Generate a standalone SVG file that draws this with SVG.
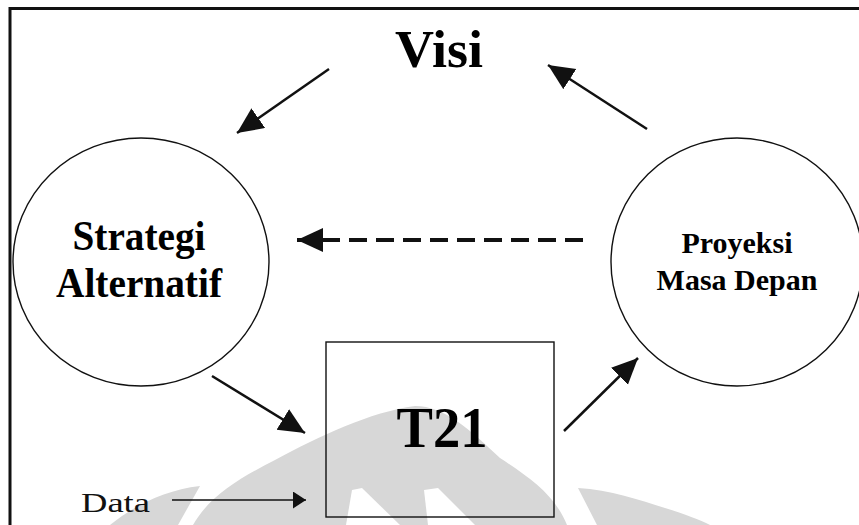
<svg xmlns="http://www.w3.org/2000/svg" width="859" height="525" viewBox="0 0 859 525">
  <style>
    .bold { font-family: "Liberation Serif", "Times New Roman", serif; font-weight: bold; fill: #000; text-anchor: middle; }
    .plain { font-family: "Liberation Serif", "Times New Roman", serif; fill: #111; }
    .node { fill: none; stroke: #111; stroke-width: 1.4; }
    .arrow { fill: none; stroke: #111; stroke-width: 2.5; marker-end: url(#head); }
    .dashed { fill: none; stroke: #111; stroke-width: 4; stroke-dasharray: 18 9; marker-end: url(#head); }
    .thin { fill: none; stroke: #111; stroke-width: 1.5; marker-end: url(#smallhead); }
    .mark { fill: #d7d7d7; }
  </style>
  <defs>
    <marker id="head" markerUnits="userSpaceOnUse" markerWidth="27" markerHeight="25" refX="26" refY="12" orient="auto">
      <path d="M0,0 L26,12 L0,24 Z" fill="#111"/>
    </marker>
    <marker id="smallhead" markerUnits="userSpaceOnUse" markerWidth="14" markerHeight="18" refX="13" refY="8.5" orient="auto">
      <path d="M0,0 L13,8.5 L0,17 Z" fill="#111"/>
    </marker>
  </defs>

  <rect width="859" height="525" fill="#fff"/>

  <!-- faint emblem behind the lower part -->
  <g id="emblem">
    <path class="mark" d="M110,525 C135,505 165,490 200,486 L178,525 Z"/>
    <path class="mark" d="M193,525 C210,495 240,478 275,460 C320,436 370,412 415,406 C445,406 470,430 500,458 C530,478 555,495 567,525 Z"/>
    <path class="mark" d="M578,488 C610,490 640,500 665,508 C685,514 700,520 710,525 L597,525 Z"/>
    <path d="M352,490 L362,488 L400,525 L346,525 Z" fill="#fff"/>
    <path d="M424,490 L438,488 L475,525 L428,525 Z" fill="#fff"/>
  </g>

  <!-- outer frame -->
  <rect x="10" y="8.5" width="900" height="600" fill="none" stroke="#111" stroke-width="3"/>

  <g id="visi">
    <text class="bold" x="439" y="67" font-size="52" textLength="88" lengthAdjust="spacingAndGlyphs">Visi</text>
  </g>

  <g id="strategi">
    <ellipse class="node" cx="141" cy="262" rx="128" ry="124"/>
    <text class="bold" x="139" y="250" font-size="42" textLength="133" lengthAdjust="spacingAndGlyphs">Strategi</text>
    <text class="bold" x="139" y="297" font-size="42" textLength="166" lengthAdjust="spacingAndGlyphs">Alternatif</text>
  </g>

  <g id="proyeksi">
    <ellipse class="node" cx="737" cy="262" rx="126" ry="124"/>
    <text class="bold" x="737" y="253" font-size="30">Proyeksi</text>
    <text class="bold" x="737" y="290" font-size="30">Masa Depan</text>
  </g>

  <g id="t21">
    <rect class="node" x="326" y="342" width="228" height="175"/>
    <text class="bold" x="442" y="447" font-size="56" textLength="91" lengthAdjust="spacingAndGlyphs">T21</text>
  </g>

  <g id="data">
    <text class="plain" x="81" y="512" font-size="28" textLength="69" lengthAdjust="spacingAndGlyphs">Data</text>
  </g>

  <g id="connectors">
    <line class="arrow" x1="329" y1="69" x2="237" y2="133"/>
    <line class="arrow" x1="647" y1="129" x2="548" y2="65"/>
    <line class="arrow" x1="212" y1="376" x2="305" y2="433"/>
    <line class="arrow" x1="564" y1="431" x2="638" y2="358"/>
    <line class="dashed" x1="583" y1="240" x2="297" y2="240"/>
    <line class="thin" x1="172" y1="500" x2="306" y2="500"/>
  </g>
</svg>
